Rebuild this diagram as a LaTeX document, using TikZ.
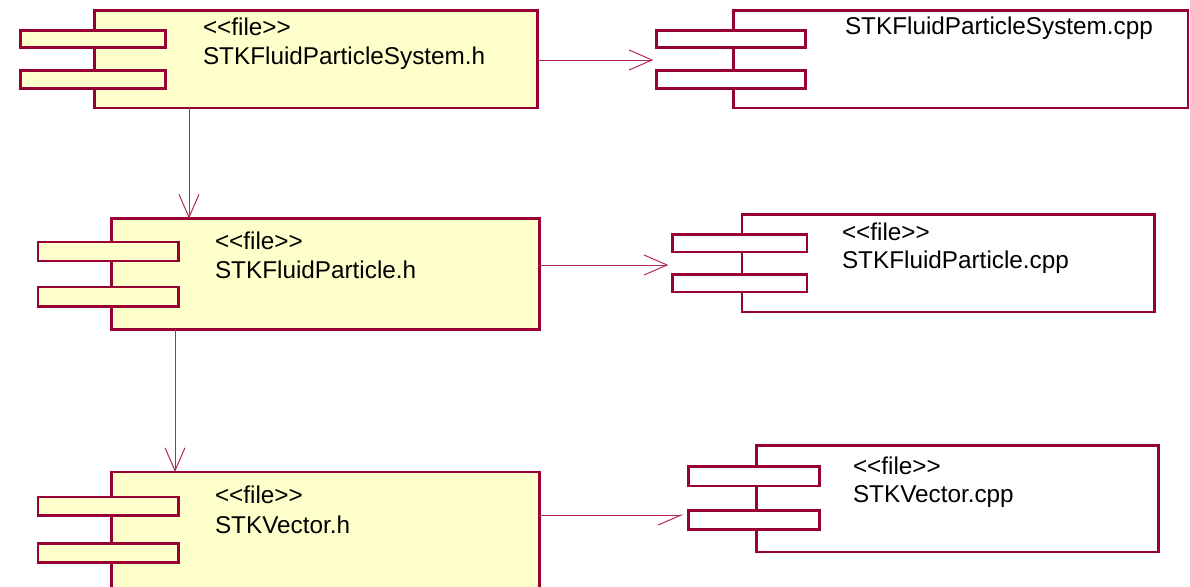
\documentclass[tikz,border=0pt]{standalone}
\usepackage{fontspec}
\setmainfont{Liberation Sans}[Ligatures=TeXOff]
\usetikzlibrary{arrows.meta}
\definecolor{umlborder}{RGB}{153,0,51}
\definecolor{umlfill}{RGB}{255,255,204}
\definecolor{deplink}{RGB}{178,40,88}
\begin{document}
\begin{tikzpicture}[x=1pt,y=-1pt,
  box/.style={draw=umlborder, line width=2.6pt, rectangle, inner sep=0pt, outer sep=0pt},
  hcomp/.style={box, fill=umlfill},
  cppcomp/.style={box, fill=white},
  lbl/.style={anchor=base west, inner sep=0pt, outer sep=0pt, font=\fontsize{24.3}{29}\selectfont},
  dep/.style={draw=deplink, line width=0.8pt,
    -{Straight Barb[length=23pt, width=20pt, line width=1pt]}},
  halfdep/.style={draw=deplink, line width=0.8pt,
    -{Straight Barb[length=23pt, width=20pt, line width=1pt, harpoon, swap]}}]

\useasboundingbox (0,0) rectangle (1190,586);

% ---- STKFluidParticleSystem.h
\node[hcomp, minimum width=443, minimum height=97.4] (sysh) at (316,59.3) {};
\node[hcomp, minimum width=144.8, minimum height=16.5] (sysh-t1) at (93,39) {};
\node[hcomp, minimum width=144.8, minimum height=17.5] (sysh-t2) at (93,79.5) {};
\node[lbl] (sysh-st) at (203,36) {<<file>>};
\node[lbl] (sysh-nm) at (203,64) {STKFluidParticleSystem.h};

% ---- STKFluidParticleSystem.cpp
\node[cppcomp, minimum width=454.4, minimum height=97.4] (syscpp) at (960.8,59.3) {};
\node[cppcomp, minimum width=149, minimum height=16.5] (syscpp-t1) at (730.8,39) {};
\node[cppcomp, minimum width=149, minimum height=17.5] (syscpp-t2) at (730.8,79.5) {};
\node[lbl] (syscpp-nm) at (845,35) {STKFluidParticleSystem.cpp};

% ---- STKFluidParticle.h
\node[hcomp, minimum width=428, minimum height=110.8] (ph) at (325.3,274) {};
\node[hcomp, minimum width=140.7, minimum height=19] (ph-t1) at (108.3,251.5) {};
\node[hcomp, minimum width=140.7, minimum height=19.5] (ph-t2) at (108.3,296.7) {};
\node[lbl] (ph-st) at (215,249) {<<file>>};
\node[lbl] (ph-nm) at (215,278) {STKFluidParticle.h};

% ---- STKFluidParticle.cpp
\node[cppcomp, minimum width=412.7, minimum height=97.4] (pcpp) at (948.3,263.3) {};
\node[cppcomp, minimum width=134.7, minimum height=17.5] (pcpp-t1) at (739.7,243.3) {};
\node[cppcomp, minimum width=134.7, minimum height=17.5] (pcpp-t2) at (739.7,283.3) {};
\node[lbl] (pcpp-st) at (842,240) {<<file>>};
\node[lbl] (pcpp-nm) at (842,268) {STKFluidParticle.cpp};

% ---- STKVector.h
\node[hcomp, minimum width=428, minimum height=128] (vh) at (325.3,536) {};
\node[hcomp, minimum width=140.7, minimum height=18.5] (vh-t1) at (108.3,506.2) {};
\node[hcomp, minimum width=140.7, minimum height=19.5] (vh-t2) at (108.3,553) {};
\node[lbl] (vh-st) at (215,503) {<<file>>};
\node[lbl] (vh-nm) at (215,533) {STKVector.h};

% ---- STKVector.cpp
\node[cppcomp, minimum width=402.4, minimum height=106.7] (vcpp) at (957.5,498.7) {};
\node[cppcomp, minimum width=130.8, minimum height=19.5] (vcpp-t1) at (754,476.2) {};
\node[cppcomp, minimum width=130.8, minimum height=19] (vcpp-t2) at (754,520.2) {};
\node[lbl] (vcpp-st) at (853,474) {<<file>>};
\node[lbl] (vcpp-nm) at (853,502) {STKVector.cpp};

% ---- dependency lines
\coordinate (row1) at (0,60);
\coordinate (row2) at (0,265);
\coordinate (row3) at (0,515);
\coordinate (col1) at (189,0);
\coordinate (col2) at (175,0);

\draw[dep, shorten >=3pt] (sysh.east |- row1) -- (syscpp-t1.west |- row1);
\draw[dep] (sysh.south -| col1) -- (ph.north -| col1);
\draw[dep, shorten >=4pt] (ph.east |- row2) -- (pcpp-t1.west |- row2);
\draw[dep] (ph.south -| col2) -- (vh.north -| col2);
\draw[halfdep, shorten >=5pt] (vh.east |- row3) -- (vcpp-t2.west |- row3);

\end{tikzpicture}
\end{document}
